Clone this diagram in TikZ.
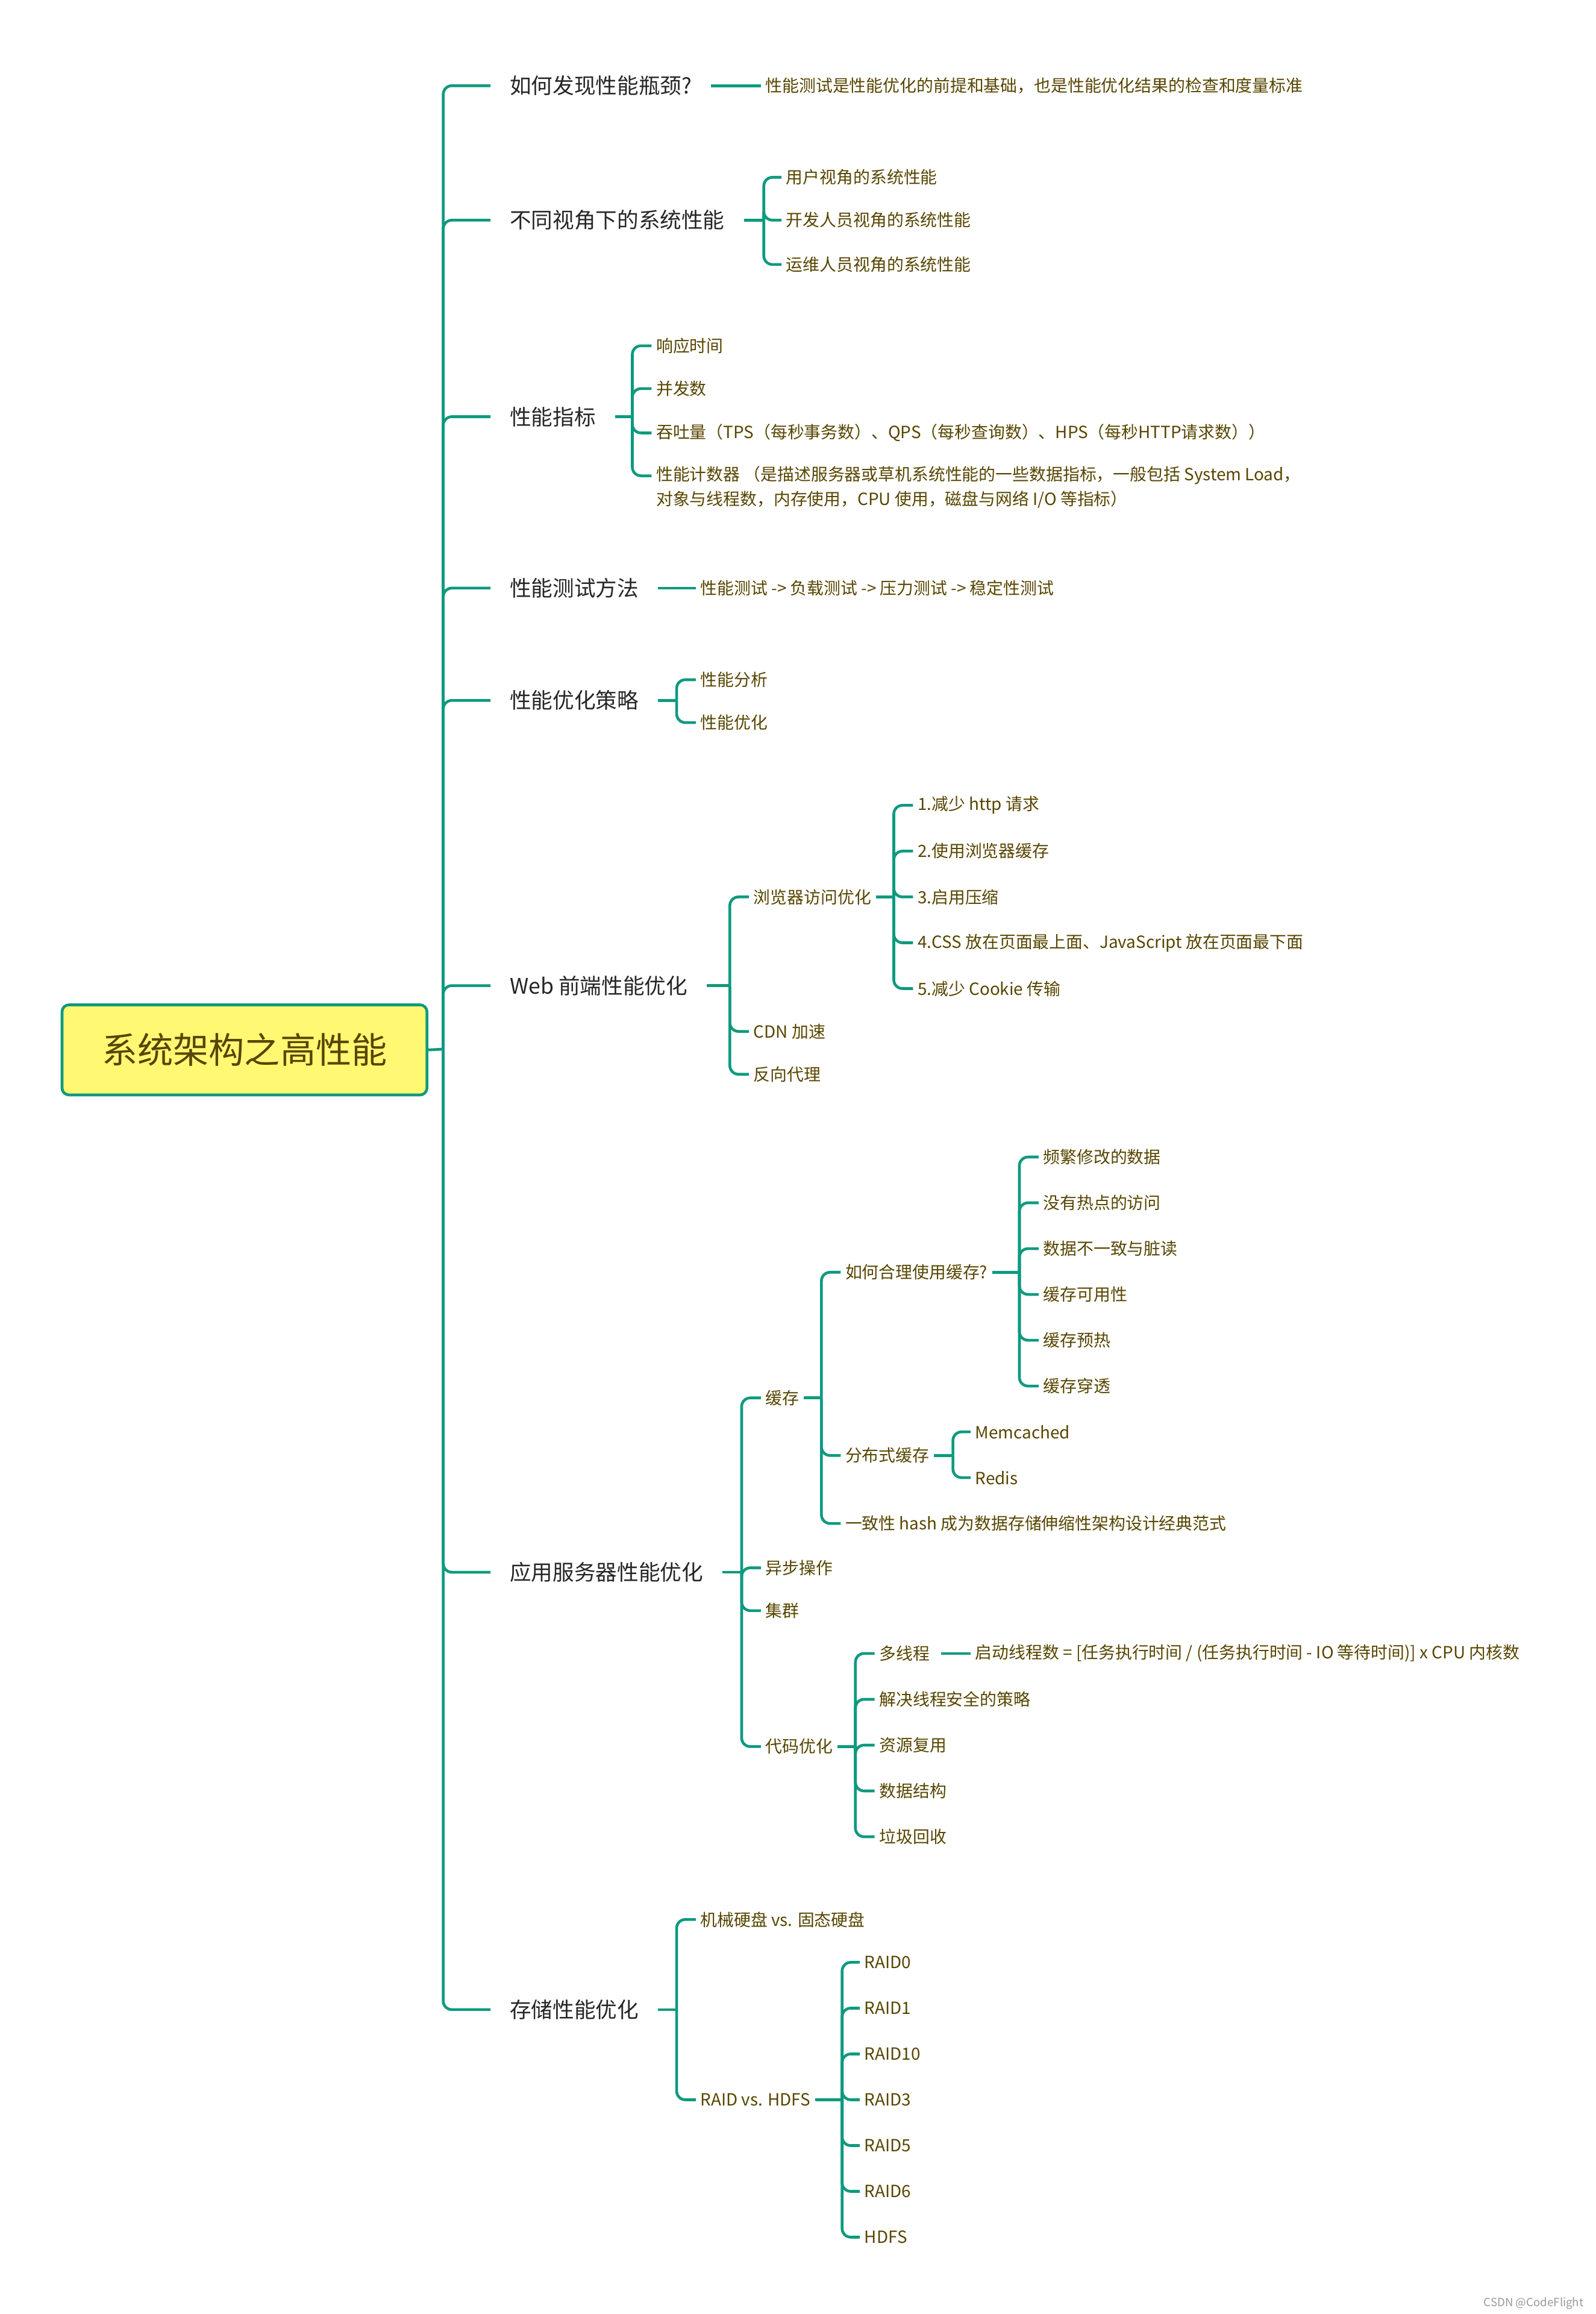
\documentclass[tikz,border=0pt]{standalone}
\usepackage{fontspec}
\setmainfont{Noto Sans CJK SC}
\definecolor{lc}{HTML}{0E9A7E}
\definecolor{lt}{HTML}{574500}
\begin{document}
\begin{tikzpicture}[x=0.03cm,y=-0.03cm,
  br/.style={draw=lc,line width=1.6pt,rounded corners=5pt},
  mainn/.style={anchor=west,inner xsep=11pt,inner ysep=2pt,font=\fontsize{12.4}{14}\selectfont,text=black!85},
  leaf/.style={anchor=west,inner xsep=2.5pt,inner ysep=1pt,font=\fontsize{9.7}{12}\selectfont,text=lt},
  sub/.style={leaf}]
\useasboundingbox (0,0) rectangle (1080,1566);
% root
\node[draw=lc,line width=1.6pt,fill=yellow!55,rounded corners=4pt,minimum width=247*0.03cm,minimum height=61*0.03cm,font=\fontsize{20.6}{24}\selectfont,text=lt] (root) at (165.5,710.5) {系统架构之高性能};
\coordinate (b0) at (300,710);
\node[mainn] (m1) at (332,58) {如何发现性能瓶颈?};
\node[mainn] (m2) at (332,149) {不同视角下的系统性能};
\node[mainn] (m3) at (332,282) {性能指标};
\node[mainn] (m4) at (332,398) {性能测试方法};
\node[mainn] (m5) at (332,474) {性能优化策略};
\node[mainn] (m6) at (332,667) {Web 前端性能优化};
\node[mainn] (m7) at (332,1064) {应用服务器性能优化};
\node[mainn] (m8) at (332,1360) {存储性能优化};
\draw[br] (root.east) -- (b0);
\foreach \m in {m1,m2,m3,m4,m5,m6,m7,m8} \draw[br] (b0) |- (\m.west);
% 1
\node[leaf] (l1) at (515,58) {性能测试是性能优化的前提和基础，也是性能优化结果的检查和度量标准};
\draw[br] (m1.east) -- (l1.west);
% 2
\coordinate (b2) at (517,149);
\node[leaf] (a1) at (529,120) {用户视角的系统性能};
\node[leaf] (a2) at (529,149) {开发人员视角的系统性能};
\node[leaf] (a3) at (529,179) {运维人员视角的系统性能};
\draw[br] (m2.east) -- (b2);
\foreach \c in {a1,a2,a3} \draw[br] (b2) |- (\c.west);
% 3
\coordinate (b3) at (428,282);
\node[leaf] (p1) at (441,234) {响应时间};
\node[leaf] (p2) at (441,263) {并发数};
\node[leaf] (p3) at (441,293) {吞吐量（TPS（每秒事务数）、QPS（每秒查询数）、HPS（每秒HTTP请求数））};
\node[leaf,anchor=north west,align=left,font=\fontsize{9.7}{14.5}\selectfont] (p4) at (441,314) {性能计数器 （是描述服务器或草机系统性能的一些数据指标，一般包括 System Load，\\对象与线程数，内存使用，CPU 使用，磁盘与网络 I/O 等指标）};
\coordinate (p4w) at (441,322);
\draw[br] (m3.east) -- (b3);
\foreach \c in {p1.west,p2.west,p3.west,p4w} \draw[br] (b3) |- (\c);
% 4
\node[leaf] (t1) at (471,398) {性能测试 -> 负载测试 -> 压力测试 -> 稳定性测试};
\draw[br] (m4.east) -- (t1.west);
% 5
\coordinate (b5) at (458,474);
\node[leaf] (s1) at (471,460) {性能分析};
\node[leaf] (s2) at (471,489) {性能优化};
\draw[br] (m5.east) -- (b5);
\foreach \c in {s1,s2} \draw[br] (b5) |- (\c.west);
% 6
\coordinate (b6) at (494,667);
\node[sub] (w1) at (507,607) {浏览器访问优化};
\node[leaf] (w2) at (507,698) {CDN 加速};
\node[leaf] (w3) at (507,727) {反向代理};
\draw[br] (m6.east) -- (b6);
\foreach \c in {w1,w2,w3} \draw[br] (b6) |- (\c.west);
\coordinate (b61) at (605,607);
\node[leaf] (x1) at (618,545) {1.减少 http 请求};
\node[leaf] (x2) at (618,576) {2.使用浏览器缓存};
\node[leaf] (x3) at (618,607) {3.启用压缩};
\node[leaf] (x4) at (618,638) {4.CSS 放在页面最上面、JavaScript 放在页面最下面};
\node[leaf] (x5) at (618,669) {5.减少 Cookie 传输};
\draw[br] (w1.east) -- (b61);
\foreach \c in {x1,x2,x3,x4,x5} \draw[br] (b61) |- (\c.west);
% 7
\coordinate (b7) at (502,1064);
\node[sub] (c1) at (515,946) {缓存};
\node[leaf] (c2) at (515,1061) {异步操作};
\node[leaf] (c3) at (515,1090) {集群};
\node[sub] (c4) at (515,1182) {代码优化};
\draw[br] (m7.east) -- (b7);
\foreach \c in {c1,c2,c3,c4} \draw[br] (b7) |- (\c.west);
\coordinate (b71) at (556,946);
\node[sub] (d1) at (569,861) {如何合理使用缓存?};
\node[sub] (d2) at (569,985) {分布式缓存};
\node[leaf] (d3) at (569,1031) {一致性 hash 成为数据存储伸缩性架构设计经典范式};
\draw[br] (c1.east) -- (b71);
\foreach \c in {d1,d2,d3} \draw[br] (b71) |- (\c.west);
\coordinate (b72) at (690,861);
\node[leaf] (e1) at (703,783) {频繁修改的数据};
\node[leaf] (e2) at (703,814) {没有热点的访问};
\node[leaf] (e3) at (703,845) {数据不一致与脏读};
\node[leaf] (e4) at (703,876) {缓存可用性};
\node[leaf] (e5) at (703,907) {缓存预热};
\node[leaf] (e6) at (703,938) {缓存穿透};
\draw[br] (d1.east) -- (b72);
\foreach \c in {e1,e2,e3,e4,e5,e6} \draw[br] (b72) |- (\c.west);
\coordinate (b73) at (645,985);
\node[leaf] (f1) at (657,969) {Memcached};
\node[leaf] (f2) at (657,1000) {Redis};
\draw[br] (d2.east) -- (b73);
\foreach \c in {f1,f2} \draw[br] (b73) |- (\c.west);
\coordinate (b74) at (579,1182);
\node[sub] (g1) at (592,1119) {多线程};
\node[leaf] (g2) at (592,1150) {解决线程安全的策略};
\node[leaf] (g3) at (592,1181) {资源复用};
\node[leaf] (g4) at (592,1212) {数据结构};
\node[leaf] (g5) at (592,1243) {垃圾回收};
\draw[br] (c4.east) -- (b74);
\foreach \c in {g1,g2,g3,g4,g5} \draw[br] (b74) |- (\c.west);
\node[leaf] (h1) at (657,1119) {启动线程数 = [任务执行时间 / (任务执行时间 - IO 等待时间)] x CPU 内核数};
\draw[br] ([xshift=4pt]g1.east) -- (h1.west);
% 8
\coordinate (b8) at (458,1360);
\node[leaf] (r1) at (471,1299) {机械硬盘 vs. 固态硬盘};
\node[sub] (r2) at (471,1421) {RAID vs. HDFS};
\draw[br] (m8.east) -- (b8);
\foreach \c in {r1,r2} \draw[br] (b8) |- (\c.west);
\coordinate (b81) at (570,1421);
\foreach \t/\y [count=\i] in {RAID0/1328,RAID1/1359,RAID10/1390,RAID3/1421,RAID5/1452,RAID6/1483,HDFS/1514}{
  \node[leaf] (q\i) at (582,\y) {\t};
  \draw[br] (b81) |- (q\i.west);
}
\draw[br] (r2.east) -- (b81);
\node[anchor=east,font=\fontsize{6.5}{8}\selectfont,text=black!40] (ft) at (1076,1559) {CSDN @CodeFlight};
\end{tikzpicture}
\end{document}
